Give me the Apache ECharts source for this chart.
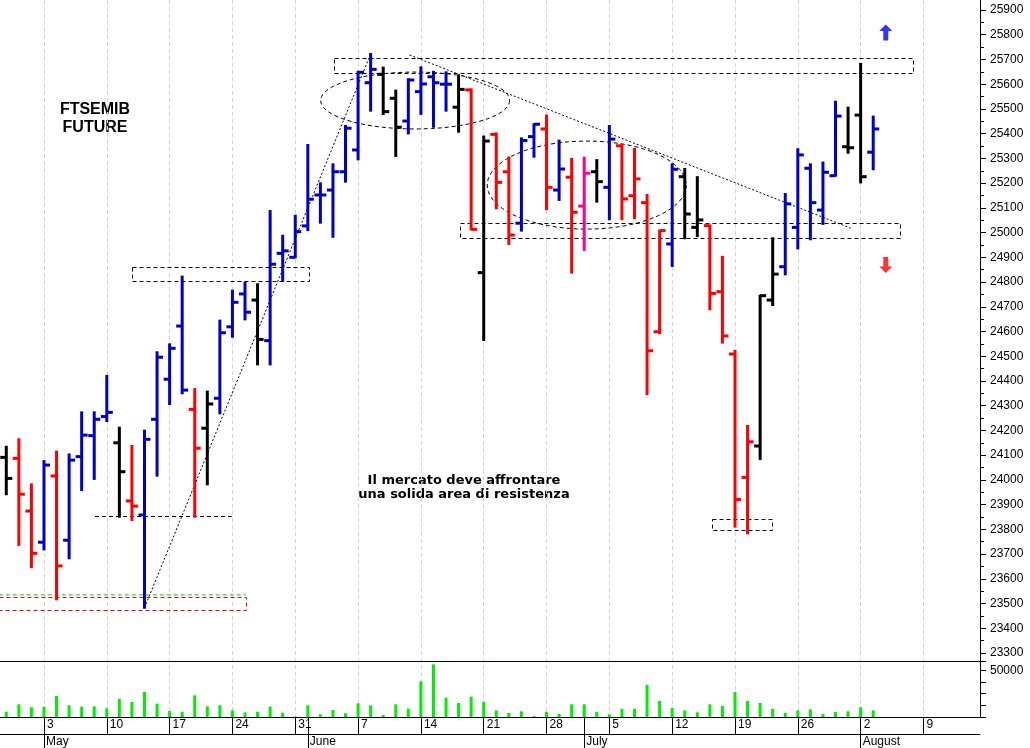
<!DOCTYPE html>
<html><head><meta charset="utf-8">
<script src="https://cdn.jsdelivr.net/npm/echarts@6/dist/echarts.min.js"></script>
<style>html,body{margin:0;padding:0;background:#fff}#c{width:1030px;height:748px}</style>
</head><body><div id="c"></div>
<script>
// ---- categories (trading days) ----
const dates = [
'2021-04-28','2021-04-29','2021-04-30',
'2021-05-03','2021-05-04','2021-05-05','2021-05-06','2021-05-07',
'2021-05-10','2021-05-11','2021-05-12','2021-05-13','2021-05-14',
'2021-05-17','2021-05-18','2021-05-19','2021-05-20','2021-05-21',
'2021-05-24','2021-05-25','2021-05-26','2021-05-27','2021-05-28',
'2021-05-31','2021-06-01','2021-06-02','2021-06-03','2021-06-04',
'2021-06-07','2021-06-08','2021-06-09','2021-06-10','2021-06-11',
'2021-06-14','2021-06-15','2021-06-16','2021-06-17','2021-06-18',
'2021-06-21','2021-06-22','2021-06-23','2021-06-24','2021-06-25',
'2021-06-28','2021-06-29','2021-06-30','2021-07-01','2021-07-02',
'2021-07-05','2021-07-06','2021-07-07','2021-07-08','2021-07-09',
'2021-07-12','2021-07-13','2021-07-14','2021-07-15','2021-07-16',
'2021-07-19','2021-07-20','2021-07-21','2021-07-22','2021-07-23',
'2021-07-26','2021-07-27','2021-07-28','2021-07-29','2021-07-30',
'2021-08-02','2021-08-03','2021-08-04','2021-08-05','2021-08-06',
'2021-08-09','2021-08-10','2021-08-11','2021-08-12','2021-08-13'
];
const monthNames = ['January','February','March','April','May','June','July','August','September','October','November','December'];

// ---- OHLC (one per traded day) ----
const opens  = [24091,24087,23874,23748,24016,23756,24094,24179,24256,24150,23915,23858,24245,24407,24622,24285,24209,24330,24619,24752,24727,24563,24916,24900,25027,25152,25172,25246,25334,25606,25640,25543,25451,25570,25630,25600,25507,25577,24838,25397,25246,25038,25388,25419,25172,25224,25107,25246,25183,25351,25149,25121,24599,24954,25226,25021,25028,24761,24509,24010,24137,24727,24862,25021,25260,25091,25230,25347,25475,25325];
const highs  = [24134,24164,23982,24076,24114,24103,24273,24273,24420,24211,24137,24199,24516,24548,24822,24367,24357,24644,24765,24797,24791,25087,24987,25068,25354,25199,25276,25431,25650,25722,25667,25574,25620,25668,25650,25648,25633,25579,25388,25401,25304,25381,25438,25473,25372,25298,25303,25293,25431,25354,25338,25152,25008,25276,25257,25224,25028,24902,24522,24218,24745,24977,25156,25337,25276,25283,25529,25505,25682,25469];
const lows   = [23942,23737,23647,23719,23517,23683,23959,24004,24238,23851,23838,23483,24017,24307,24350,23851,23982,24269,24579,24649,24467,24467,24805,24900,25010,25040,24983,25206,25296,25493,25480,25310,25401,25480,25428,25493,25408,25013,24566,25098,24954,25008,25307,25095,25132,24838,24930,25125,25054,25054,25058,24347,24593,24865,24977,24986,24690,24555,23811,23784,24084,24707,24831,24936,24973,25035,25230,25323,25203,25256];
const closes = [24006,23942,23703,24060,23652,24080,24181,24245,24273,24033,23894,24164,24496,24532,24363,24128,24307,24595,24718,24678,24568,24872,24926,25004,25135,25152,25246,25422,25648,25660,25489,25426,25617,25601,25606,25600,25579,25013,25370,25203,24990,25372,25438,25183,25257,25082,25240,25206,25378,25136,25217,24522,25008,25256,25075,25051,24754,24582,23921,24154,24745,24832,25116,25314,25121,25244,25471,25343,25226,25419];
// bar colour class: K black, B blue, R red, P pink
const barClass = ['K','R','R','B','R','B','B','B','B','K','R','B','B','B','B','R','K','B','B','B','K','B','B','B','B','B','B','B','B','B','K','K','B','B','B','B','K','R','K','R','R','B','B','R','B','R','P','K','B','R','R','R','R','B','K','K','R','R','R','R','K','K','B','B','B','B','B','K','K','B'];
const volumes = [5700,13600,10400,11000,22500,12500,11100,11400,9300,19300,16100,26800,14300,6400,5700,23200,11400,12500,7100,5000,5700,11000,4600,500,12500,2900,7500,4000,14600,12500,2100,13600,8900,38200,56400,20700,15000,21800,16100,7100,4300,6100,1000,5700,3200,13600,13600,5400,2900,8600,8600,34300,17100,9600,7100,5000,13600,11800,26800,17100,15000,8600,4300,7100,8200,3200,5400,6100,10400,7100];

// ---- annotations (day index, price) ----
const zones = [ // [x0, x1, priceTop, priceBottom, colour]
  [26.1, 72.2, 25705, 25644, '#000'],
  [10.03, 24.1, 24862, 24805, '#000'],
  [36.1, 71.1, 25040, 24979, '#000'],
  [56.2, 61.0, 23842, 23797, '#000'],
  [-0.6, 19.06, 23526, 23474, '#ff0000']
];
const ellipses = [ // [centreX, centrePrice, radiusDays, radiusPoints]
  [32.54, 25534, 7.52, 115],
  [46.2, 25192, 7.92, 178]
];
const trendUp = [[11, 23483], [29, 25722]];
const trendDown = [[32.1, 25718], [67.2, 25018]];
const supportLine = [[7.06, 23852], [17.95, 23852]];
const greenLine = [[-0.6, 23535], [19.06, 23535]];
const arrowUp = [[70, 25809]];
const arrowDown = [[70, 24869]];

const priceTicks = {min: 23300, max: 25900, step: 100};

const colorMap = {K:'#000000', B:'#0000cc', R:'#ff0000', P:'#ff0090'};
const isMonday = i => new Date(dates[i] + 'T00:00:00Z').getUTCDay() === 1;
const isMonthStart = i => i > 0 && dates[i].slice(5,7) !== dates[i-1].slice(5,7);
const nDays = dates.length;

const ohlcData = opens.map((o,i) => [i, o, highs[i], lows[i], closes[i]]);

function renderOHLC(params, api) {
  const x = api.value(0);
  const o = api.coord([x, api.value(1)]);
  const h = api.coord([x, api.value(2)]);
  const l = api.coord([x, api.value(3)]);
  const c = api.coord([x, api.value(4)]);
  const col = colorMap[barClass[params.dataIndex]];
  const st = {stroke: col, lineWidth: 3};
  return {type:'group', children:[
    {type:'line', shape:{x1:h[0], y1:h[1]-1, x2:l[0], y2:l[1]+1}, style:st},
    {type:'line', shape:{x1:o[0]-6, y1:o[1], x2:o[0], y2:o[1]}, style:st},
    {type:'line', shape:{x1:c[0], y1:c[1], x2:c[0]+6, y2:c[1]}, style:st}
  ]};
}
function renderZone(params, api) {
  const z = zones[params.dataIndex];
  const p1 = api.coord([z[0], z[2]]);
  const p2 = api.coord([z[1], z[3]]);
  return {type:'rect', shape:{x:Math.round(p1[0])+0.5, y:Math.round(p1[1])+0.5, width:Math.round(p2[0]-p1[0]), height:Math.round(p2[1]-p1[1])},
    style:{stroke:z[4], fill:null, lineWidth:1, lineDash:[4,3]}};
}
function renderEllipse(params, api) {
  const e = ellipses[params.dataIndex];
  const c = api.coord([e[0], e[1]]);
  const r = api.coord([e[0]+e[2], e[1]+e[3]]);
  const rx = r[0]-c[0], ry = c[1]-r[1];
  const pts = [];
  for (let k = 0; k <= 90; k++) { const t = k/90*2*Math.PI; pts.push([c[0]+rx*Math.cos(t), c[1]+ry*Math.sin(t)]); }
  return {type:'polyline', shape:{points:pts}, style:{stroke:'#000', fill:null, lineWidth:1, lineDash:[4,3]}};
}

const chart = echarts.init(document.getElementById('c'), null, {renderer:'canvas'});
const fontFam = '"Liberation Sans", Arial, sans-serif';
const hiddenCat = (grid, extra) => Object.assign({type:'category', gridIndex:grid, data:dates, boundaryGap:true,
  axisLine:{show:false}, axisTick:{show:false}, axisLabel:{show:false}, splitLine:{show:false}}, extra||{});

chart.setOption({
  animation:false,
  backgroundColor:'#ffffff',
  grid:[
    {left:0, top:0, width:980, height:717},
    {left:0, top:10, width:980, height:643},
    {left:0, top:661, width:980, height:56}
  ],
  xAxis:[
    hiddenCat(0, {splitLine:{show:true, alignWithLabel:true, interval:(i)=>isMonday(i), lineStyle:{color:'#d4d4d4', type:[4,3], width:1}}}),
    {type:'value', gridIndex:1, min:-0.5, max:nDays-0.5, show:false, axisLine:{onZero:false}},
    {type:'value', gridIndex:2, min:-0.5, max:nDays-0.5, show:false, axisLine:{onZero:false}},
    hiddenCat(2, {position:'bottom', axisLine:{show:true, onZero:false, lineStyle:{color:'#000', width:1}},
      axisTick:{show:true, alignWithLabel:true, interval:(i)=>isMonday(i), length:17, lineStyle:{color:'#000'}},
      axisLabel:{show:true, interval:(i)=>isMonday(i), formatter:(v)=>String(parseInt(v.slice(8),10)), align:'left', padding:[0,0,0,3], margin:2, fontSize:12, color:'#000', fontFamily:fontFam}}),
    hiddenCat(2, {position:'bottom', axisLine:{show:false, onZero:false},
      axisTick:{show:true, alignWithLabel:true, interval:(i)=>isMonthStart(i), length:31, lineStyle:{color:'#000'}},
      axisLabel:{show:true, interval:(i)=>isMonthStart(i), formatter:(v)=>monthNames[parseInt(v.slice(5,7),10)-1], align:'left', padding:[0,0,0,2], margin:19, fontSize:12, color:'#000', fontFamily:fontFam}}),
    hiddenCat(2, {position:'bottom', offset:17, axisLine:{show:true, onZero:false, lineStyle:{color:'#000', width:1}}}),
    hiddenCat(2, {position:'top', axisLine:{show:true, onZero:false, lineStyle:{color:'#000', width:1}}})
  ],
  yAxis:[
    {type:'value', gridIndex:0, min:0, max:1, position:'right', axisLine:{show:true, onZero:false, lineStyle:{color:'#000', width:1}}, axisTick:{show:false}, axisLabel:{show:false}, splitLine:{show:false}},
    {type:'value', gridIndex:1, min:priceTicks.min, max:priceTicks.max, interval:priceTicks.step, position:'right',
      axisLine:{show:true, onZero:false, lineStyle:{color:'#000'}}, axisTick:{show:true, length:6, lineStyle:{color:'#000'}},
      minorTick:{show:true, splitNumber:2, length:4, lineStyle:{color:'#000'}},
      axisLabel:{margin:10, fontSize:12, color:'#000', fontFamily:fontFam, formatter:(v)=>String(v)}, splitLine:{show:false}},
    {type:'value', gridIndex:2, min:0, max:60000, interval:12500, position:'right',
      axisLine:{show:true, onZero:false, lineStyle:{color:'#000'}}, axisTick:{show:true, length:6, lineStyle:{color:'#000'}},
      axisLabel:{margin:10, fontSize:12, color:'#000', fontFamily:fontFam, formatter:(v)=> v===50000 ? '50000' : ''}, splitLine:{show:false}}
  ],
  series:[
    {type:'custom', name:'zones', xAxisIndex:1, yAxisIndex:1, data:zones.map((z,i)=>[i]), renderItem:renderZone, silent:true, z:1},
    {type:'custom', name:'ellipses', xAxisIndex:1, yAxisIndex:1, data:ellipses.map((e,i)=>[i]), renderItem:renderEllipse, silent:true, z:1},
    {type:'line', xAxisIndex:1, yAxisIndex:1, data:trendUp, symbol:'none', silent:true, lineStyle:{color:'#000', width:1, type:[2,2]}, z:1},
    {type:'line', xAxisIndex:1, yAxisIndex:1, data:trendDown, symbol:'none', silent:true, lineStyle:{color:'#000', width:1, type:[2,2]}, z:1},
    {type:'line', xAxisIndex:1, yAxisIndex:1, data:supportLine, symbol:'none', silent:true, lineStyle:{color:'#000', width:1, type:[4,3]}, z:1},
    {type:'line', xAxisIndex:1, yAxisIndex:1, data:greenLine, symbol:'none', silent:true, lineStyle:{color:'#22bb22', width:1, type:[4,3]}, z:1},
    {type:'custom', name:'ohlc', xAxisIndex:1, yAxisIndex:1, data:ohlcData, renderItem:renderOHLC, z:3},
    {type:'scatter', xAxisIndex:1, yAxisIndex:1, data:arrowUp, symbol:'path://M6.5,0 L13,7 L9,7 L9,17 L4,17 L4,7 L0,7 Z', symbolSize:[13,16], itemStyle:{color:'#0000ff'}, silent:true},
    {type:'scatter', xAxisIndex:1, yAxisIndex:1, data:arrowDown, symbol:'path://M4,0 L9,0 L9,10 L13,10 L6.5,17 L0,10 L4,10 Z', symbolSize:[13,16], itemStyle:{color:'#ff0000'}, silent:true},
    {type:'bar', xAxisIndex:2, yAxisIndex:2, data:volumes.map((v,i)=>[i,v]), barWidth:3, itemStyle:{color:'#00ee00'}, silent:true}
  ],
  graphic:[
    {type:'text', x:95, y:110, style:{text:'FTSEMIB', font:'bold 16px "Liberation Sans", Arial, sans-serif', fill:'#000', align:'center', verticalAlign:'middle'}},
    {type:'text', x:95, y:128, style:{text:'FUTURE', font:'bold 16px "Liberation Sans", Arial, sans-serif', fill:'#000', align:'center', verticalAlign:'middle'}},
    {type:'text', x:464, y:481, style:{text:'Il mercato deve affrontare', font:'bold 13px "DejaVu Sans", sans-serif', fill:'#000', align:'center', verticalAlign:'middle'}},
    {type:'text', x:464, y:495, style:{text:'una solida area di resistenza', font:'bold 13px "DejaVu Sans", sans-serif', fill:'#000', align:'center', verticalAlign:'middle'}}
  ]
});
</script></body></html>
